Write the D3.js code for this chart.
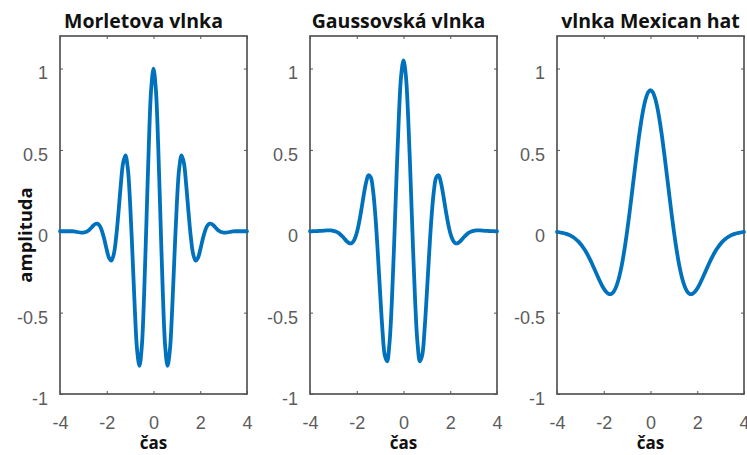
<!DOCTYPE html>
<html lang="cs">
	<head>
		<meta charset="utf-8">
		<title>Vlnky</title>
		<script src="https://cdn.jsdelivr.net/npm/d3@7"></script>
		<style type="text/css">
			body { margin: 0; background: #fff; }
			.tick text { font-family: "Liberation Sans", Arial, sans-serif; font-size: 18px; fill: #5c5c5c; }
			.tick line { stroke: #555; }
			.lab { font-family: "Open Sans", sans-serif; font-weight: bold; fill: #111; }
		</style>
	</head>
	<body>
		<script type="text/javascript">

			//canvas size
			var w = 747;
			var h = 455;

			//data
			var titles = ["Morletova vlnka", "Gaussovská vlnka", "vlnka Mexican hat"];
			var xTicks = [-4, -2, 0, 2, 4];
			var yTicks = [-1, -0.5, 0, 0.5, 1];

			var cas = [-4.0, -3.9, -3.8, -3.7, -3.6, -3.5, -3.4, -3.3, -3.2, -3.1,
					   -3.0, -2.9, -2.8, -2.7, -2.6, -2.5, -2.4, -2.3, -2.2, -2.1,
					   -2.0, -1.9, -1.8, -1.7, -1.6, -1.5, -1.4, -1.3, -1.2, -1.1,
					   -1.0, -0.9, -0.8, -0.7, -0.6, -0.5, -0.4, -0.3, -0.2, -0.1,
					   0.0, 0.1, 0.2, 0.3, 0.4, 0.5, 0.6, 0.7, 0.8, 0.9,
					   1.0, 1.1, 1.2, 1.3, 1.4, 1.5, 1.6, 1.7, 1.8, 1.9,
					   2.0, 2.1, 2.2, 2.3, 2.4, 2.5, 2.6, 2.7, 2.8, 2.9,
					   3.0, 3.1, 3.2, 3.3, 3.4, 3.5, 3.6, 3.7, 3.8, 3.9, 4.0];

			var morlet = [0, 0, 0, 0, 0, 0, -0.001, -0.003, -0.006, -0.008,
						  -0.008, -0.005, 0.003, 0.016, 0.031, 0.044, 0.047, 0.034, 0.000, -0.052,
						  -0.114, -0.164, -0.180, -0.142, -0.040, 0.113, 0.283, 0.420, 0.467, 0.387,
						  0.172, -0.141, -0.475, -0.733, -0.827, -0.707, -0.384, 0.068, 0.530, 0.873,
						  1.000, 0.873, 0.530, 0.068, -0.384, -0.707, -0.827, -0.733, -0.475, -0.141,
						  0.172, 0.387, 0.467, 0.420, 0.283, 0.113, -0.040, -0.142, -0.180, -0.164,
						  -0.114, -0.052, 0.000, 0.034, 0.047, 0.044, 0.031, 0.016, 0.003, -0.005,
						  -0.008, -0.008, -0.006, -0.003, -0.001, 0, 0, 0, 0, 0, 0];

			var gauss = [0, 0, 0.001, 0.001, 0.002, 0.003, 0.004, 0.005, 0.005, 0.005,
						 0.003, -0.002, -0.009, -0.020, -0.034, -0.050, -0.065, -0.074, -0.071, -0.051,
						 -0.010, 0.054, 0.135, 0.224, 0.300, 0.344, 0.331, 0.247, 0.088, -0.131,
						 -0.379, -0.607, -0.762, -0.799, -0.689, -0.436, -0.075, 0.329, 0.699, 0.957,
						 1.050, 0.957, 0.699, 0.329, -0.075, -0.436, -0.689, -0.799, -0.762, -0.607,
						 -0.379, -0.131, 0.088, 0.247, 0.331, 0.344, 0.300, 0.224, 0.135, 0.054,
						 -0.010, -0.051, -0.071, -0.074, -0.065, -0.050, -0.034, -0.020, -0.009, -0.002,
						 0.003, 0.005, 0.005, 0.005, 0.004, 0.003, 0.002, 0.001, 0.001, 0, 0];

			var mexhat = [-0.004, -0.006, -0.009, -0.012, -0.016, -0.021, -0.028, -0.037, -0.048, -0.061,
						  -0.077, -0.096, -0.117, -0.142, -0.170, -0.200, -0.232, -0.264, -0.296, -0.326,
						  -0.352, -0.372, -0.384, -0.386, -0.376, -0.352, -0.312, -0.257, -0.186, -0.099,
						  0.000, 0.110, 0.227, 0.346, 0.464, 0.574, 0.672, 0.755, 0.816, 0.854,
						  0.867, 0.854, 0.816, 0.755, 0.672, 0.574, 0.464, 0.346, 0.227, 0.110,
						  0.000, -0.099, -0.186, -0.257, -0.312, -0.352, -0.376, -0.386, -0.384, -0.372,
						  -0.352, -0.326, -0.296, -0.264, -0.232, -0.200, -0.170, -0.142, -0.117, -0.096,
						  -0.077, -0.061, -0.048, -0.037, -0.028, -0.021, -0.016, -0.012, -0.009, -0.006, -0.004];

			var series = [morlet, gauss, mexhat];

			//panel layout (named so they don't clash with window.top)
			var lefts = [60, 310, 557];
			var pw = 187;
			var plotTop = 36, plotBottom = 394;
			var titleShift = [-10, -5, 0];

			var svg = d3.select("body")
						.append("svg")
						.attr("width", w)
						.attr("height", h);

			var y = d3.scaleLinear().domain([-1, 1.2]).range([plotBottom, plotTop]);

			series.forEach(function(vals, p) {
				var x = d3.scaleLinear().domain([-4, 4]).range([lefts[p], lefts[p] + pw]);
				var fmt = function(d) { return String(d); };

				//bottom axis with labels, ticks pointing inwards
				svg.append("g")
				   .attr("transform", "translate(0," + plotBottom + ")")
				   .call(d3.axisBottom(x).tickValues(xTicks).tickFormat(fmt).tickSizeInner(-3).tickSizeOuter(0).tickPadding(22))
				   .call(function(g) { g.select(".domain").remove(); });

				svg.append("g")
				   .attr("transform", "translate(" + lefts[p] + ",0)")
				   .call(d3.axisLeft(y).tickValues(yTicks).tickFormat(fmt).tickSizeInner(-3).tickSizeOuter(0).tickPadding(12))
				   .call(function(g) {
				   		g.select(".domain").remove();
				   		g.selectAll("text").attr("dy", "0.58em");
				   });

				//top and right ticks only (box on)
				svg.append("g")
				   .attr("transform", "translate(0," + plotTop + ")")
				   .call(d3.axisTop(x).tickValues(xTicks).tickFormat("").tickSizeInner(-3).tickSizeOuter(0))
				   .call(function(g) { g.select(".domain").remove(); });

				svg.append("g")
				   .attr("transform", "translate(" + (lefts[p] + pw) + ",0)")
				   .call(d3.axisRight(y).tickValues(yTicks).tickFormat("").tickSizeInner(-3).tickSizeOuter(0))
				   .call(function(g) { g.select(".domain").remove(); });

				//the box
				svg.append("rect")
				   .attr("x", lefts[p])
				   .attr("y", plotTop)
				   .attr("width", pw)
				   .attr("height", plotBottom - plotTop)
				   .attr("fill", "none")
				   .attr("stroke", "#555")
				   .attr("stroke-width", 1.7);

				//the wavelet itself
				var line = d3.line()
							 .x(function(d, i) { return x(cas[i]); })
							 .y(function(d) { return y(d); })
							 .curve(d3.curveCatmullRom.alpha(0.5));

				svg.append("path")
				   .datum(vals)
				   .attr("d", line)
				   .attr("fill", "none")
				   .attr("stroke", "#0072BD")
				   .attr("stroke-width", 3.8)
				   .attr("stroke-linejoin", "round")
				   .attr("stroke-linecap", "round");

				//title
				svg.append("text")
				   .attr("class", "lab")
				   .attr("x", lefts[p] + pw / 2 + titleShift[p])
				   .attr("y", 28)
				   .attr("text-anchor", "middle")
				   .attr("font-size", "19.5px")
				   .text(titles[p]);

				//x label
				svg.append("text")
				   .attr("class", "lab")
				   .attr("x", lefts[p] + pw / 2)
				   .attr("y", 449)
				   .attr("text-anchor", "middle")
				   .attr("font-size", "17px")
				   .text("čas");
			});

			//y label, only on the first panel
			svg.append("text")
			   .attr("class", "lab")
			   .attr("transform", "translate(26,235) rotate(-90)")
			   .attr("dy", "0.35em")
			   .attr("text-anchor", "middle")
			   .attr("font-size", "18.5px")
			   .text("amplituda");

		</script>
	</body>
</html>
